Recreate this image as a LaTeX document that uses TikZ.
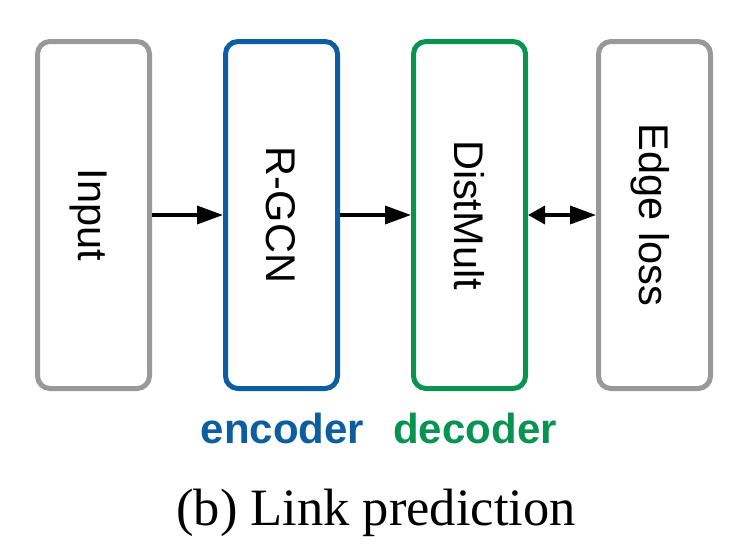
\documentclass[tikz,border=0pt]{standalone}
\usepackage{fontspec}
\setmainfont{Liberation Serif}
\newfontfamily\arialfont{Liberation Sans}
\usetikzlibrary{arrows.meta}
\definecolor{boxgray}{RGB}{153,153,153}
\definecolor{encblue}{RGB}{12,94,160}
\definecolor{decgreen}{RGB}{8,148,80}
\tikzset{
  blockbox/.style={draw=#1, line width=5pt, rounded corners=12.5pt, fill=white,
    minimum width=112pt, minimum height=347pt, inner sep=0pt},
  blocktext/.style={rotate=-90, font=\arialfont\fontsize{41.5}{49}\selectfont,
    text height=29.5pt, text depth=0pt, inner sep=0pt},
  tag/.style={anchor=base, font=\arialfont\bfseries\fontsize{42}{50}\selectfont, text=#1, inner sep=0pt},
  flow/.style={line width=3.5pt, -{Triangle[length=26pt,width=18pt]}},
  bothflow/.style={line width=3.5pt, {Triangle[length=17pt,width=18pt]}-{Triangle[length=26pt,width=18pt]}}
}
\begin{document}
\begin{tikzpicture}[x=1pt,y=-1pt]
\useasboundingbox (0,0) rectangle (733,549);
\node[blockbox=boxgray] (in) at (93.5,215) {};
\node[blockbox=encblue] (rg) at (281.5,215) {};
\node[blockbox=decgreen] (dm) at (469.5,215) {};
\node[blockbox=boxgray] (el) at (654.5,215) {};
\node[blocktext] (tin) at (in.center) {Input};
\node[blocktext] (trg) at (rg.center) {R-GCN};
\node[blocktext] (tdm) at (dm.center) {DistMult};
\node[blocktext] (tel) at (el.center) {Edge loss};
\draw[flow] (in.east) -- (rg.west);
\draw[flow] (rg.east) -- (dm.west);
\draw[bothflow] (dm.east) -- (el.west);
\node[tag=encblue] (enc) at (282.5,443) {encoder};
\node[tag=decgreen] (dec) at (475,443) {decoder};
\node[anchor=base, inner sep=0pt, font=\fontsize{52.5}{60}\selectfont] (cap) at (376,525) {(b) Link prediction};
\end{tikzpicture}
\end{document}
